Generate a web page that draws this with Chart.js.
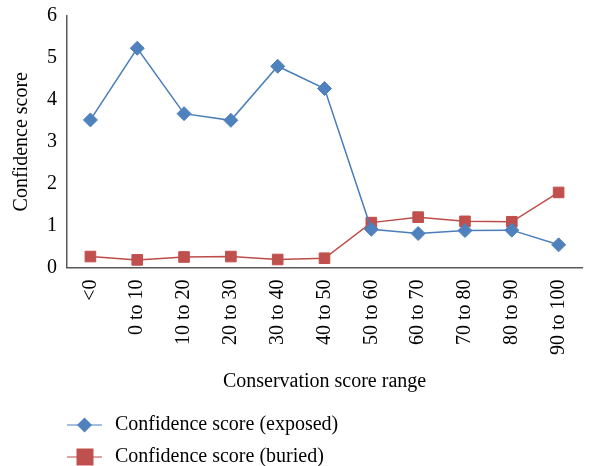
<!DOCTYPE html>
<html>
<head>
<meta charset="utf-8">
<script src="https://cdn.jsdelivr.net/npm/chart.js@4.4.1/dist/chart.umd.min.js"></script>
<style>
  html, body { margin: 0; padding: 0; background: #ffffff; }
  #wrap { width: 595px; height: 466px; position: relative; }
</style>
</head>
<body>
<div id="wrap"><canvas id="c" width="595" height="466"></canvas></div>
<script>
const categories = ["<0", "0 to 10", "10 to 20", "20 to 30", "30 to 40", "40 to 50", "50 to 60", "60 to 70", "70 to 80", "80 to 90", "90 to 100"];
const exposedValues = [3.52, 5.23, 3.67, 3.51, 4.80, 4.27, 0.91, 0.81, 0.88, 0.89, 0.54];
const buriedValues = [0.26, 0.18, 0.25, 0.26, 0.19, 0.22, 1.07, 1.20, 1.10, 1.09, 1.79];
const yTicks = [0, 1, 2, 3, 4, 5, 6];
const seriesNames = ["Confidence score (exposed)", "Confidence score (buried)"];

const FONT = "'Liberation Serif', 'Times New Roman', serif";
const BLUE = "#4A7EBB", BLUE_M = "#4F81BD";
const RED = "#BE4B48", RED_M = "#C0504D";

const legendPlugin = {
  id: 'stackedLegend',
  afterDraw(chart) {
    const ctx = chart.ctx;
    const rows = [425, 457];
    ctx.save();
    chart.data.datasets.forEach((ds, i) => {
      const y = rows[i];
      ctx.strokeStyle = ds.borderColor;
      ctx.lineWidth = 1.2;
      ctx.beginPath();
      ctx.moveTo(67, y);
      ctx.lineTo(102, y);
      ctx.stroke();
      ctx.fillStyle = ds.pointBackgroundColor;
      ctx.beginPath();
      if (ds.pointStyle === 'rectRot') {
        const s = 7.5;
        ctx.moveTo(84.5 - s, y); ctx.lineTo(84.5, y - s); ctx.lineTo(84.5 + s, y); ctx.lineTo(84.5, y + s);
        ctx.closePath();
      } else {
        ctx.rect(85 - 8.5, y - 8.5, 17, 17);
      }
      ctx.fill();
      ctx.fillStyle = '#000';
      ctx.font = "20px " + FONT;
      ctx.textBaseline = 'middle';
      ctx.textAlign = 'left';
      ctx.fillText(ds.label, 115, y);
    });
    ctx.restore();
  }
};

new Chart(document.getElementById('c'), {
  type: 'line',
  data: {
    labels: categories,
    datasets: [
      {
        label: seriesNames[0],
        data: exposedValues,
        borderColor: BLUE,
        backgroundColor: BLUE_M,
        pointBackgroundColor: BLUE_M,
        pointBorderColor: BLUE_M,
        pointStyle: 'rectRot',
        pointRadius: 7,
        pointBorderWidth: 1,
        borderWidth: 1.5,
        tension: 0,
        fill: false
      },
      {
        label: seriesNames[1],
        data: buriedValues,
        borderColor: RED,
        backgroundColor: RED_M,
        pointBackgroundColor: RED_M,
        pointBorderColor: RED_M,
        pointStyle: 'rect',
        pointRadius: 7.5,
        pointBorderWidth: 1,
        borderWidth: 1.5,
        tension: 0,
        fill: false
      }
    ]
  },
  options: {
    responsive: false,
    animation: false,
    devicePixelRatio: 1,
    layout: { padding: { left: 10, right: 1, top: 16, bottom: 68 } },
    plugins: {
      legend: { display: false },
      tooltip: { enabled: false }
    },
    scales: {
      x: {
        offset: true,
        grid: { display: false, drawTicks: false },
        border: { display: true, color: '#595959', width: 1.5 },
        ticks: {
          color: '#000',
          font: { family: FONT, size: 20 },
          minRotation: 90,
          maxRotation: 90,
          padding: 12,
          autoSkip: false
        },
        title: {
          display: true,
          text: 'Conservation score range',
          color: '#000',
          font: { family: FONT, size: 20 },
          padding: { top: 3, bottom: 4 }
        }
      },
      y: {
        min: 0,
        max: 6,
        afterBuildTicks(axis) { axis.ticks = yTicks.map(v => ({ value: v })); },
        afterFit(axis) { axis.paddingTop = 0; axis.paddingBottom = 0; },
        grid: { display: false, drawTicks: false },
        border: { display: true, color: '#595959', width: 1.5 },
        ticks: {
          color: '#000',
          font: { family: FONT, size: 20 },
          padding: 10
        },
        title: {
          display: true,
          text: 'Confidence score',
          color: '#000',
          font: { family: FONT, size: 20 },
          padding: { top: 0, bottom: 3 }
        }
      }
    }
  },
  plugins: [legendPlugin]
});
</script>
</body>
</html>
